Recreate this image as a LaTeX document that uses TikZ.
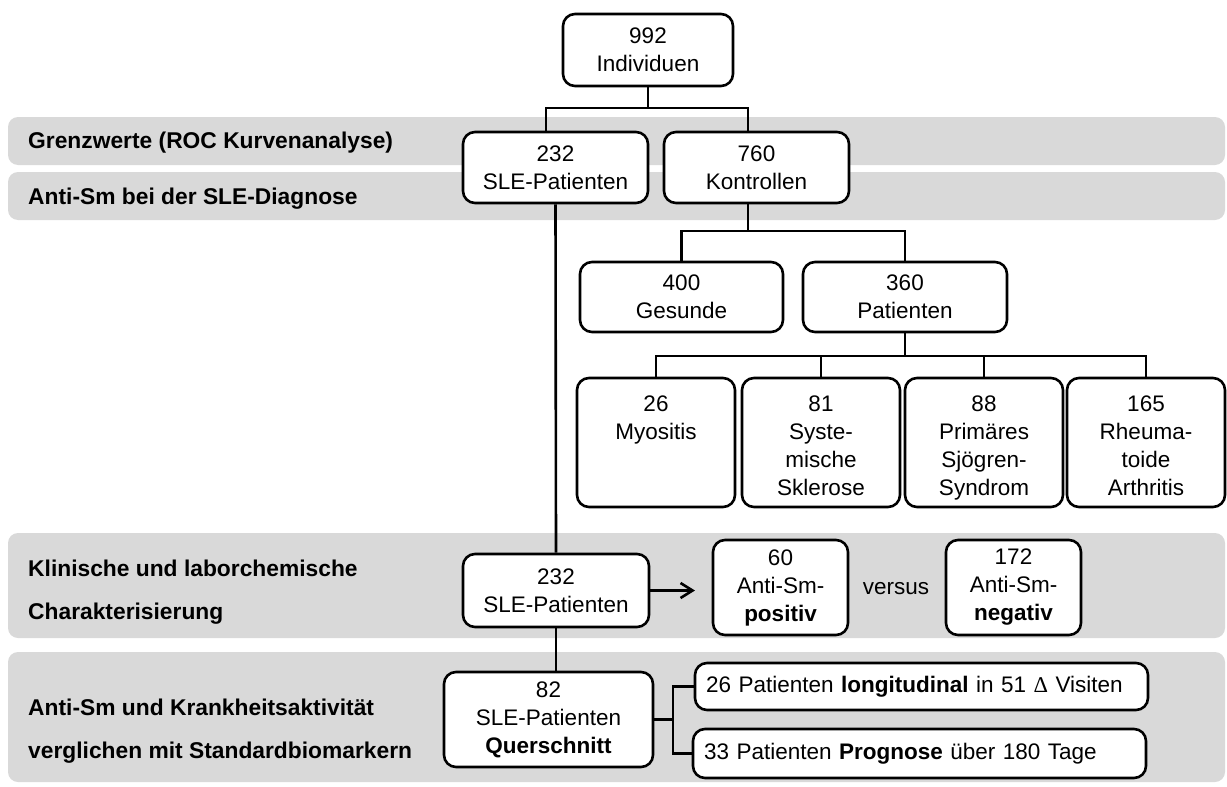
\documentclass[tikz,border=0pt]{standalone}
\usepackage{fontspec}
\setmainfont{Liberation Sans}
\newfontfamily\deltafont{Liberation Serif}
\usetikzlibrary{calc,arrows.meta}
\definecolor{bandgray}{HTML}{D9D9D9}
\begin{document}
\begin{tikzpicture}[x=1pt,y=-1pt,
  box/.style={draw=black, line width=2.6pt, rounded corners=12pt, fill=white, inner sep=0pt, align=center, font=\fontsize{22.5}{28}\selectfont},
  band/.style={fill=bandgray, rounded corners=10pt},
  lbl/.style={font=\fontsize{22.8}{43}\selectfont\bfseries, align=left, inner sep=0pt},
  txt/.style={font=\fontsize{22.5}{28}\selectfont, align=center, inner sep=0pt},
  longbox/.style={box, inner xsep=11pt, text width=431pt, align=left, minimum height=47pt},
  conn/.style={line width=2.6pt}]
\useasboundingbox (0,0) rectangle (1227,787);

% bands
\fill[band] (8,117) rectangle (1225,165);
\fill[band] (8,172) rectangle (1225,220);
\fill[band] (8,533) rectangle (1225,638);
\fill[band] (8,652) rectangle (1225,782);

% band labels
\node[lbl, anchor=base west] (l1) at (28,148) {Grenzwerte (ROC Kurvenanalyse)};
\node[lbl, anchor=base west] (l2) at (28,204) {Anti-Sm bei der SLE-Diagnose};
\node[lbl, anchor=north west] (l3) at (28,559.5) {Klinische und laborchemische\\Charakterisierung};
\node[lbl, anchor=north west] (l4) at (28,698.5) {Anti-Sm und Krankheitsaktivität\\verglichen mit Standardbiomarkern};

% boxes
\node[box, minimum width=170pt, minimum height=72pt] (top) at (648,50) {992\\Individuen};
\node[box, minimum width=185pt, minimum height=71pt] (sle1) at (555.5,167.5) {232\\SLE-Patienten};
\node[box, minimum width=185pt, minimum height=71pt] (kon) at (756.5,167.5) {760\\Kontrollen};
\node[box, minimum width=203pt, minimum height=70pt] (ges) at (681.5,297) {400\\Gesunde};
\node[box, minimum width=204pt, minimum height=70pt] (pat) at (905,297) {360\\Patienten};

\node[box, minimum width=158pt, minimum height=129pt] (myo) at (656,442.5) {};
\node[box, minimum width=158pt, minimum height=129pt] (sys) at (821,442.5) {};
\node[box, minimum width=158pt, minimum height=129pt] (pri) at (984,442.5) {};
\node[box, minimum width=158pt, minimum height=129pt] (rhe) at (1146,442.5) {};
\node[txt, anchor=north] (tmyo) at ($(myo.north)+(0,19)$) {26\\Myositis};
\node[txt, anchor=north] (tsys) at ($(sys.north)+(0,19)$) {81\\Syste-\\mische\\Sklerose};
\node[txt, anchor=north] (tpri) at ($(pri.north)+(0,19)$) {88\\Primäres\\Sjögren-\\Syndrom};
\node[txt, anchor=north] (trhe) at ($(rhe.north)+(0,19)$) {165\\Rheuma-\\toide\\Arthritis};

\node[box, minimum width=186pt, minimum height=73pt] (sle2) at (556,590.5) {232\\SLE-Patienten};
\node[box, minimum width=135pt, minimum height=95pt] (pos) at (780.5,587.5) {60\\Anti-Sm-\\\textbf{positiv}};
\node[txt] (vs) at (896,589) {versus};
\node[box, minimum width=135pt, minimum height=95pt] (neg) at (1013.5,587.5) {172\\Anti-Sm-\\\textbf{negativ}};

\node[box, minimum width=209pt, minimum height=95pt] (q82) at (548.5,719.5) {82\\SLE-Patienten\\\textbf{Querschnitt}};
\node[longbox] (long1) at (921.5,686.5) {26 Patienten \textbf{longitudinal} in 51 {\deltafont Δ} Visiten};
\node[longbox, minimum height=49pt] (long2) at (919.5,753.5) {33 Patienten \textbf{Prognose} über 180 Tage};

% connectors
\coordinate (b1) at (546,108);
\coordinate (b2) at (748,108);
\draw[conn] (top.south) -- (top.south |- b1);
\draw[conn] (sle1.north -| b1) -- (b1) -- (b2) -- (kon.north -| b2);

\coordinate (k0) at (748,231);
\draw[conn] (kon.south -| k0) -- (k0);
\draw[conn] (ges.north) -- (ges.north |- k0) -- (pat.north |- k0) -- (pat.north);

\coordinate (p0) at (905,356);
\draw[conn] (pat.south) -- (p0);
\draw[conn] (myo.north) -- (myo.north |- p0) -- (rhe.north |- p0) -- (rhe.north);
\draw[conn] (sys.north) -- (sys.north |- p0);
\draw[conn] (pri.north) -- (pri.north |- p0);

\draw[conn] (sle1.south) -- (sle2.north);
\coordinate (arrtip) at (695,590.5);
\draw[conn, -{Straight Barb[length=12pt,width=15pt]}] (sle2.east) -- (arrtip);
\draw[conn] (sle2.south) -- (sle2.south |- q82.north);

\coordinate (br) at (673,720);
\draw[conn] (q82.east) -- (q82.east -| br);
\draw[conn] (long1.west) -- (long1.west -| br) -- (long2.west -| br) -- (long2.west);
\end{tikzpicture}
\end{document}
